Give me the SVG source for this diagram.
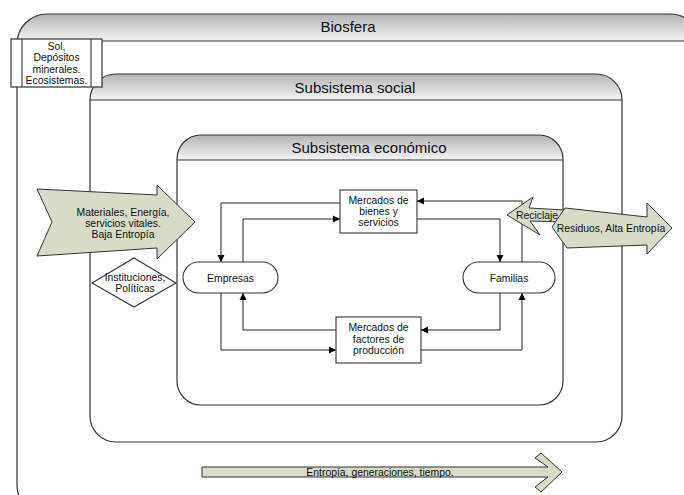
<svg xmlns="http://www.w3.org/2000/svg" width="684" height="495" viewBox="0 0 684 495">
<defs>
<linearGradient id="hdr" x1="0" y1="0" x2="0" y2="1">
<stop offset="0" stop-color="#b4b4b4"/>
<stop offset="1" stop-color="#f4f4f4"/>
</linearGradient>
<marker id="ah" markerWidth="8" markerHeight="8" refX="7" refY="4" orient="auto" markerUnits="userSpaceOnUse">
<path d="M0,0.5 L7,4 L0,7.5 z" fill="#000"/>
</marker>
<clipPath id="cb"><rect x="17" y="14" width="683" height="501" rx="30"/></clipPath>
<clipPath id="cs"><rect x="90" y="74" width="532" height="368" rx="26"/></clipPath>
<clipPath id="ce"><rect x="177" y="135" width="386" height="270" rx="24"/></clipPath>
</defs>
<style>
.t{font-family:"Liberation Sans",Arial,sans-serif;fill:#111;text-anchor:middle}
.s{font-size:10.4px}
.h{font-size:15px}
.box{fill:#fff;stroke:#333;stroke-width:1.2}
.frame{fill:none;stroke:#333;stroke-width:1.2}
.nd{fill:#fff;stroke:#333;stroke-width:1.1}
.blk{fill:#d8dbc8;stroke:#333;stroke-width:1}
.ln{fill:none;stroke:#222;stroke-width:1;marker-end:url(#ah)}
</style>
<rect width="684" height="495" fill="#fff"/>
<g id="biosfera">
<rect x="17" y="14" width="683" height="501" rx="30" fill="#fff"/>
<rect x="17" y="14" width="683" height="27" fill="url(#hdr)" clip-path="url(#cb)"/>
<line x1="17" y1="41" x2="684" y2="41" stroke="#333" stroke-width="1.2"/>
<rect x="17" y="14" width="683" height="501" rx="30" class="frame"/>
<text x="348" y="32" class="t h">Biosfera</text>
</g>
<g id="social">
<rect x="90" y="74" width="532" height="368" rx="26" fill="#fff"/>
<rect x="90" y="74" width="532" height="26" fill="url(#hdr)" clip-path="url(#cs)"/>
<line x1="90" y1="100" x2="622" y2="100" stroke="#333" stroke-width="1.2"/>
<rect x="90" y="74" width="532" height="368" rx="26" class="frame"/>
<text x="355" y="93" class="t h">Subsistema social</text>
</g>
<g id="economico">
<rect x="177" y="135" width="386" height="270" rx="24" fill="#fff"/>
<rect x="177" y="135" width="386" height="25" fill="url(#hdr)" clip-path="url(#ce)"/>
<line x1="177" y1="160" x2="563" y2="160" stroke="#333" stroke-width="1.2"/>
<rect x="177" y="135" width="386" height="270" rx="24" class="frame"/>
<text x="369" y="153" class="t h">Subsistema económico</text>
</g>
<g id="recursos">
<rect x="11" y="39" width="91" height="48" class="box"/>
<line x1="22" y1="39" x2="22" y2="87" stroke="#333" stroke-width="1.1"/>
<line x1="91" y1="39" x2="91" y2="87" stroke="#333" stroke-width="1.1"/>
<text class="t s" x="56.5"><tspan x="56.5" y="50">Sol,</tspan><tspan x="56.5" y="61">Depósitos</tspan><tspan x="56.5" y="72.5">minerales.</tspan><tspan x="56.5" y="84">Ecosistemas.</tspan></text>
</g>
<g id="entrada">
<polygon points="37,189 157,195 157,185 195,222 157,259 157,248 37,256 52,222" class="blk"/>
<text class="t s"><tspan x="123" y="216">Materiales, Energía,</tspan><tspan x="123" y="227">servicios vitales.</tspan><tspan x="123" y="238">Baja Entropía</tspan></text>
</g>
<g id="instituciones">
<polygon points="134,258 176,283 134,307 92,283" class="nd"/>
<text class="t s"><tspan x="135" y="281">Instituciones,</tspan><tspan x="135" y="292">Políticas</tspan></text>
</g>
<g id="connectors">
<path d="M340,203 H221 V262" class="ln"/>
<path d="M243,262 V219 H340" class="ln"/>
<path d="M522,262 V201 H417" class="ln"/>
<path d="M417,219 H500 V262" class="ln"/>
<path d="M336,330 H243 V293" class="ln"/>
<path d="M221,293 V350 H336" class="ln"/>
<path d="M500,293 V330 H421" class="ln"/>
<path d="M421,350 H522 V293" class="ln"/>
</g>
<g id="empresas">
<rect x="183" y="262" width="95" height="31" rx="15.5" class="nd"/>
<text x="230.5" y="282" class="t s">Empresas</text>
</g>
<g id="familias">
<rect x="463" y="262" width="92" height="31" rx="15.5" class="nd"/>
<text x="509" y="282" class="t s">Familias</text>
</g>
<g id="bienes">
<rect x="340" y="190" width="77" height="43" class="nd"/>
<text class="t s"><tspan x="378.5" y="203.5">Mercados de</tspan><tspan x="378.5" y="215">bienes y</tspan><tspan x="378.5" y="226">servicios</tspan></text>
</g>
<g id="factores">
<rect x="336" y="317" width="85" height="46" class="nd"/>
<text class="t s"><tspan x="378.5" y="331">Mercados de</tspan><tspan x="378.5" y="342.5">factores de</tspan><tspan x="378.5" y="354">producción</tspan></text>
</g>
<g id="reciclaje">
<polygon points="507,215 533,197 529,208 565,210 571,216 565,222 530,221 540,235" class="blk"/>
<text x="537" y="219" class="t s">Reciclaje</text>
</g>
<g id="residuos">
<polygon points="552,227 565,208 647,217 647,203 672,228 647,254 647,245 567,248" class="blk"/>
<text x="611" y="232" class="t s">Residuos, Alta Entropía</text>
</g>
<g id="tiempo">
<polygon points="202,467 548,467 535,458 541,453 562,472 541,492 535,487 548,477 202,477" class="blk"/>
<text x="380" y="476" class="t s">Entropía, generaciones, tiempo.</text>
</g>
</svg>
